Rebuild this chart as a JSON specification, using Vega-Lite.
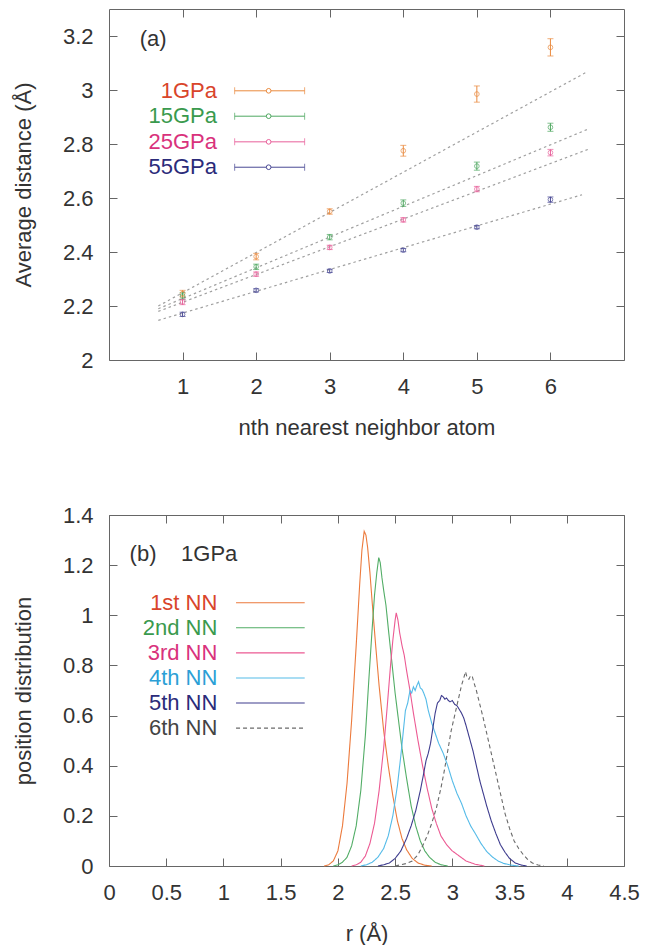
{
"$schema": "https://vega.github.io/schema/vega-lite/v6.json",
"padding": {"left": 11, "top": 8, "right": 5, "bottom": 0},
"autosize": {"type": "pad"},
"background": "white",
"spacing": 64,
"resolve": {"scale": {"stroke": "independent", "fill": "independent", "color": "independent", "strokeDash": "independent"}},
"config": {
  "font": "Liberation Sans",
  "view": {"stroke": "#666666", "strokeWidth": 1},
  "axis": {"grid": false, "domain": false, "tickColor": "#666666", "tickSize": -8, "labelFont": "Liberation Sans", "labelFontSize": 22, "labelColor": "#333333", "titleFont": "Liberation Sans", "titleFontSize": 22, "titleFontWeight": "normal", "titleColor": "#333333", "labelPadding": 24, "labelFlush": false, "labelOverlap": false},
  "text": {"font": "Liberation Sans", "fontSize": 22}
},
"datasets": {
  "pts": [
    {"s": "1GPa", "n": 1, "v": 2.246, "lo": 2.234, "hi": 2.258},
    {"s": "1GPa", "n": 2, "v": 2.383, "lo": 2.371, "hi": 2.395},
    {"s": "1GPa", "n": 3, "v": 2.55, "lo": 2.54, "hi": 2.56},
    {"s": "1GPa", "n": 4, "v": 2.775, "lo": 2.755, "hi": 2.795},
    {"s": "1GPa", "n": 5, "v": 2.985, "lo": 2.955, "hi": 3.015},
    {"s": "1GPa", "n": 6, "v": 3.158, "lo": 3.126, "hi": 3.19},
    {"s": "15GPa", "n": 1, "v": 2.237, "lo": 2.225, "hi": 2.249},
    {"s": "15GPa", "n": 2, "v": 2.345, "lo": 2.335, "hi": 2.355},
    {"s": "15GPa", "n": 3, "v": 2.455, "lo": 2.445, "hi": 2.465},
    {"s": "15GPa", "n": 4, "v": 2.581, "lo": 2.569, "hi": 2.593},
    {"s": "15GPa", "n": 5, "v": 2.718, "lo": 2.703, "hi": 2.733},
    {"s": "15GPa", "n": 6, "v": 2.862, "lo": 2.847, "hi": 2.877},
    {"s": "25GPa", "n": 1, "v": 2.215, "lo": 2.205, "hi": 2.225},
    {"s": "25GPa", "n": 2, "v": 2.318, "lo": 2.31, "hi": 2.326},
    {"s": "25GPa", "n": 3, "v": 2.417, "lo": 2.409, "hi": 2.425},
    {"s": "25GPa", "n": 4, "v": 2.519, "lo": 2.511, "hi": 2.527},
    {"s": "25GPa", "n": 5, "v": 2.633, "lo": 2.623, "hi": 2.643},
    {"s": "25GPa", "n": 6, "v": 2.768, "lo": 2.756, "hi": 2.78},
    {"s": "55GPa", "n": 1, "v": 2.169, "lo": 2.161, "hi": 2.177},
    {"s": "55GPa", "n": 2, "v": 2.258, "lo": 2.252, "hi": 2.264},
    {"s": "55GPa", "n": 3, "v": 2.33, "lo": 2.324, "hi": 2.336},
    {"s": "55GPa", "n": 4, "v": 2.407, "lo": 2.401, "hi": 2.413},
    {"s": "55GPa", "n": 5, "v": 2.492, "lo": 2.486, "hi": 2.498},
    {"s": "55GPa", "n": 6, "v": 2.594, "lo": 2.584, "hi": 2.604}
  ],
  "fits": [
    {"s": "1GPa", "x": 0.67, "y": 2.2},
    {"s": "1GPa", "x": 6.51, "y": 3.069},
    {"s": "15GPa", "x": 0.67, "y": 2.19},
    {"s": "15GPa", "x": 6.51, "y": 2.855},
    {"s": "25GPa", "x": 0.67, "y": 2.18},
    {"s": "25GPa", "x": 6.51, "y": 2.78},
    {"s": "55GPa", "x": 0.67, "y": 2.147},
    {"s": "55GPa", "x": 6.43, "y": 2.612}
  ],
  "legA": [
    {"s": "1GPa", "ty": 2.997, "tx": 1.467, "lx1": 1.708, "lx2": 2.659, "lxc": 2.17},
    {"s": "15GPa", "ty": 2.903, "tx": 1.467, "lx1": 1.708, "lx2": 2.659, "lxc": 2.17},
    {"s": "25GPa", "ty": 2.808, "tx": 1.467, "lx1": 1.708, "lx2": 2.659, "lxc": 2.17},
    {"s": "55GPa", "ty": 2.714, "tx": 1.467, "lx1": 1.708, "lx2": 2.659, "lxc": 2.17}
  ],
  "labA": [{"t": "(a)", "x": 0.417, "y": 3.188}],
  "labB": [{"t": "(b)", "x": 0.18, "y": 1.246}, {"t": "1GPa", "x": 0.63, "y": 1.246}],
  "legB": [
    {"nn": "1st NN", "ty": 1.05, "tx": 0.947, "lx1": 1.11, "lx2": 1.71},
    {"nn": "2nd NN", "ty": 0.95, "tx": 0.947, "lx1": 1.11, "lx2": 1.71},
    {"nn": "3rd NN", "ty": 0.85, "tx": 0.947, "lx1": 1.11, "lx2": 1.71},
    {"nn": "4th NN", "ty": 0.75, "tx": 0.947, "lx1": 1.11, "lx2": 1.71},
    {"nn": "5th NN", "ty": 0.65, "tx": 0.947, "lx1": 1.11, "lx2": 1.71},
    {"nn": "6th NN", "ty": 0.55, "tx": 0.947, "lx1": 1.11, "lx2": 1.71}
  ],
  "curves": [
    {"nn": "1st NN", "r": 1.88, "v": 0}, {"nn": "1st NN", "r": 1.92, "v": 0.005}, {"nn": "1st NN", "r": 1.96, "v": 0.02}, {"nn": "1st NN", "r": 2.0, "v": 0.06}, {"nn": "1st NN", "r": 2.04, "v": 0.16}, {"nn": "1st NN", "r": 2.08, "v": 0.33}, {"nn": "1st NN", "r": 2.12, "v": 0.58}, {"nn": "1st NN", "r": 2.16, "v": 0.88}, {"nn": "1st NN", "r": 2.19, "v": 1.12}, {"nn": "1st NN", "r": 2.21, "v": 1.26}, {"nn": "1st NN", "r": 2.23, "v": 1.335}, {"nn": "1st NN", "r": 2.245, "v": 1.32}, {"nn": "1st NN", "r": 2.26, "v": 1.27}, {"nn": "1st NN", "r": 2.28, "v": 1.17}, {"nn": "1st NN", "r": 2.3, "v": 1.05}, {"nn": "1st NN", "r": 2.33, "v": 0.88}, {"nn": "1st NN", "r": 2.36, "v": 0.72}, {"nn": "1st NN", "r": 2.4, "v": 0.54}, {"nn": "1st NN", "r": 2.44, "v": 0.4}, {"nn": "1st NN", "r": 2.48, "v": 0.28}, {"nn": "1st NN", "r": 2.52, "v": 0.18}, {"nn": "1st NN", "r": 2.56, "v": 0.11}, {"nn": "1st NN", "r": 2.6, "v": 0.065}, {"nn": "1st NN", "r": 2.65, "v": 0.03}, {"nn": "1st NN", "r": 2.7, "v": 0.012}, {"nn": "1st NN", "r": 2.76, "v": 0.003}, {"nn": "1st NN", "r": 2.82, "v": 0},
    {"nn": "2nd NN", "r": 1.96, "v": 0}, {"nn": "2nd NN", "r": 2.0, "v": 0.005}, {"nn": "2nd NN", "r": 2.04, "v": 0.015}, {"nn": "2nd NN", "r": 2.08, "v": 0.035}, {"nn": "2nd NN", "r": 2.12, "v": 0.08}, {"nn": "2nd NN", "r": 2.16, "v": 0.16}, {"nn": "2nd NN", "r": 2.2, "v": 0.3}, {"nn": "2nd NN", "r": 2.24, "v": 0.52}, {"nn": "2nd NN", "r": 2.27, "v": 0.74}, {"nn": "2nd NN", "r": 2.3, "v": 0.95}, {"nn": "2nd NN", "r": 2.32, "v": 1.08}, {"nn": "2nd NN", "r": 2.34, "v": 1.17}, {"nn": "2nd NN", "r": 2.357, "v": 1.23}, {"nn": "2nd NN", "r": 2.37, "v": 1.21}, {"nn": "2nd NN", "r": 2.385, "v": 1.15}, {"nn": "2nd NN", "r": 2.4, "v": 1.1}, {"nn": "2nd NN", "r": 2.42, "v": 1.04}, {"nn": "2nd NN", "r": 2.44, "v": 0.95}, {"nn": "2nd NN", "r": 2.47, "v": 0.82}, {"nn": "2nd NN", "r": 2.5, "v": 0.69}, {"nn": "2nd NN", "r": 2.53, "v": 0.58}, {"nn": "2nd NN", "r": 2.56, "v": 0.47}, {"nn": "2nd NN", "r": 2.6, "v": 0.35}, {"nn": "2nd NN", "r": 2.64, "v": 0.24}, {"nn": "2nd NN", "r": 2.68, "v": 0.16}, {"nn": "2nd NN", "r": 2.72, "v": 0.1}, {"nn": "2nd NN", "r": 2.76, "v": 0.06}, {"nn": "2nd NN", "r": 2.8, "v": 0.035}, {"nn": "2nd NN", "r": 2.85, "v": 0.015}, {"nn": "2nd NN", "r": 2.9, "v": 0.005}, {"nn": "2nd NN", "r": 2.96, "v": 0},
    {"nn": "3rd NN", "r": 2.12, "v": 0}, {"nn": "3rd NN", "r": 2.16, "v": 0.005}, {"nn": "3rd NN", "r": 2.2, "v": 0.015}, {"nn": "3rd NN", "r": 2.24, "v": 0.04}, {"nn": "3rd NN", "r": 2.28, "v": 0.09}, {"nn": "3rd NN", "r": 2.32, "v": 0.17}, {"nn": "3rd NN", "r": 2.36, "v": 0.3}, {"nn": "3rd NN", "r": 2.4, "v": 0.47}, {"nn": "3rd NN", "r": 2.43, "v": 0.63}, {"nn": "3rd NN", "r": 2.46, "v": 0.8}, {"nn": "3rd NN", "r": 2.48, "v": 0.9}, {"nn": "3rd NN", "r": 2.5, "v": 0.98}, {"nn": "3rd NN", "r": 2.51, "v": 1.01}, {"nn": "3rd NN", "r": 2.525, "v": 0.98}, {"nn": "3rd NN", "r": 2.54, "v": 0.93}, {"nn": "3rd NN", "r": 2.56, "v": 0.88}, {"nn": "3rd NN", "r": 2.58, "v": 0.84}, {"nn": "3rd NN", "r": 2.6, "v": 0.78}, {"nn": "3rd NN", "r": 2.63, "v": 0.7}, {"nn": "3rd NN", "r": 2.66, "v": 0.61}, {"nn": "3rd NN", "r": 2.7, "v": 0.5}, {"nn": "3rd NN", "r": 2.74, "v": 0.4}, {"nn": "3rd NN", "r": 2.78, "v": 0.31}, {"nn": "3rd NN", "r": 2.82, "v": 0.23}, {"nn": "3rd NN", "r": 2.86, "v": 0.17}, {"nn": "3rd NN", "r": 2.9, "v": 0.12}, {"nn": "3rd NN", "r": 2.95, "v": 0.085}, {"nn": "3rd NN", "r": 3.0, "v": 0.06}, {"nn": "3rd NN", "r": 3.06, "v": 0.04}, {"nn": "3rd NN", "r": 3.12, "v": 0.02}, {"nn": "3rd NN", "r": 3.2, "v": 0.007}, {"nn": "3rd NN", "r": 3.28, "v": 0},
    {"nn": "4th NN", "r": 2.2, "v": 0}, {"nn": "4th NN", "r": 2.25, "v": 0.005}, {"nn": "4th NN", "r": 2.3, "v": 0.015}, {"nn": "4th NN", "r": 2.35, "v": 0.035}, {"nn": "4th NN", "r": 2.4, "v": 0.07}, {"nn": "4th NN", "r": 2.44, "v": 0.12}, {"nn": "4th NN", "r": 2.48, "v": 0.2}, {"nn": "4th NN", "r": 2.52, "v": 0.32}, {"nn": "4th NN", "r": 2.55, "v": 0.44}, {"nn": "4th NN", "r": 2.57, "v": 0.53}, {"nn": "4th NN", "r": 2.59, "v": 0.62}, {"nn": "4th NN", "r": 2.61, "v": 0.65}, {"nn": "4th NN", "r": 2.63, "v": 0.7}, {"nn": "4th NN", "r": 2.645, "v": 0.69}, {"nn": "4th NN", "r": 2.66, "v": 0.715}, {"nn": "4th NN", "r": 2.675, "v": 0.7}, {"nn": "4th NN", "r": 2.69, "v": 0.72}, {"nn": "4th NN", "r": 2.705, "v": 0.735}, {"nn": "4th NN", "r": 2.72, "v": 0.71}, {"nn": "4th NN", "r": 2.735, "v": 0.705}, {"nn": "4th NN", "r": 2.75, "v": 0.69}, {"nn": "4th NN", "r": 2.77, "v": 0.665}, {"nn": "4th NN", "r": 2.79, "v": 0.62}, {"nn": "4th NN", "r": 2.82, "v": 0.57}, {"nn": "4th NN", "r": 2.85, "v": 0.53}, {"nn": "4th NN", "r": 2.88, "v": 0.49}, {"nn": "4th NN", "r": 2.92, "v": 0.45}, {"nn": "4th NN", "r": 2.96, "v": 0.4}, {"nn": "4th NN", "r": 3.0, "v": 0.34}, {"nn": "4th NN", "r": 3.04, "v": 0.29}, {"nn": "4th NN", "r": 3.08, "v": 0.25}, {"nn": "4th NN", "r": 3.12, "v": 0.2}, {"nn": "4th NN", "r": 3.16, "v": 0.16}, {"nn": "4th NN", "r": 3.2, "v": 0.13}, {"nn": "4th NN", "r": 3.25, "v": 0.09}, {"nn": "4th NN", "r": 3.3, "v": 0.058}, {"nn": "4th NN", "r": 3.35, "v": 0.036}, {"nn": "4th NN", "r": 3.4, "v": 0.02}, {"nn": "4th NN", "r": 3.45, "v": 0.01}, {"nn": "4th NN", "r": 3.52, "v": 0.003}, {"nn": "4th NN", "r": 3.58, "v": 0},
    {"nn": "5th NN", "r": 2.35, "v": 0}, {"nn": "5th NN", "r": 2.4, "v": 0.005}, {"nn": "5th NN", "r": 2.45, "v": 0.012}, {"nn": "5th NN", "r": 2.5, "v": 0.03}, {"nn": "5th NN", "r": 2.55, "v": 0.06}, {"nn": "5th NN", "r": 2.6, "v": 0.11}, {"nn": "5th NN", "r": 2.64, "v": 0.16}, {"nn": "5th NN", "r": 2.68, "v": 0.22}, {"nn": "5th NN", "r": 2.72, "v": 0.3}, {"nn": "5th NN", "r": 2.75, "v": 0.37}, {"nn": "5th NN", "r": 2.77, "v": 0.42}, {"nn": "5th NN", "r": 2.79, "v": 0.45}, {"nn": "5th NN", "r": 2.81, "v": 0.49}, {"nn": "5th NN", "r": 2.83, "v": 0.55}, {"nn": "5th NN", "r": 2.85, "v": 0.61}, {"nn": "5th NN", "r": 2.87, "v": 0.65}, {"nn": "5th NN", "r": 2.89, "v": 0.66}, {"nn": "5th NN", "r": 2.905, "v": 0.68}, {"nn": "5th NN", "r": 2.92, "v": 0.675}, {"nn": "5th NN", "r": 2.935, "v": 0.665}, {"nn": "5th NN", "r": 2.95, "v": 0.67}, {"nn": "5th NN", "r": 2.965, "v": 0.66}, {"nn": "5th NN", "r": 2.98, "v": 0.655}, {"nn": "5th NN", "r": 3.0, "v": 0.66}, {"nn": "5th NN", "r": 3.02, "v": 0.645}, {"nn": "5th NN", "r": 3.04, "v": 0.64}, {"nn": "5th NN", "r": 3.06, "v": 0.625}, {"nn": "5th NN", "r": 3.08, "v": 0.61}, {"nn": "5th NN", "r": 3.1, "v": 0.59}, {"nn": "5th NN", "r": 3.12, "v": 0.56}, {"nn": "5th NN", "r": 3.15, "v": 0.51}, {"nn": "5th NN", "r": 3.18, "v": 0.46}, {"nn": "5th NN", "r": 3.21, "v": 0.4}, {"nn": "5th NN", "r": 3.24, "v": 0.34}, {"nn": "5th NN", "r": 3.27, "v": 0.29}, {"nn": "5th NN", "r": 3.3, "v": 0.24}, {"nn": "5th NN", "r": 3.34, "v": 0.18}, {"nn": "5th NN", "r": 3.38, "v": 0.13}, {"nn": "5th NN", "r": 3.42, "v": 0.085}, {"nn": "5th NN", "r": 3.46, "v": 0.055}, {"nn": "5th NN", "r": 3.5, "v": 0.03}, {"nn": "5th NN", "r": 3.55, "v": 0.012}, {"nn": "5th NN", "r": 3.6, "v": 0.004}, {"nn": "5th NN", "r": 3.65, "v": 0},
    {"nn": "6th NN", "r": 2.5, "v": 0}, {"nn": "6th NN", "r": 2.55, "v": 0.005}, {"nn": "6th NN", "r": 2.6, "v": 0.01}, {"nn": "6th NN", "r": 2.65, "v": 0.02}, {"nn": "6th NN", "r": 2.7, "v": 0.045}, {"nn": "6th NN", "r": 2.74, "v": 0.08}, {"nn": "6th NN", "r": 2.78, "v": 0.12}, {"nn": "6th NN", "r": 2.82, "v": 0.17}, {"nn": "6th NN", "r": 2.86, "v": 0.23}, {"nn": "6th NN", "r": 2.9, "v": 0.31}, {"nn": "6th NN", "r": 2.93, "v": 0.38}, {"nn": "6th NN", "r": 2.96, "v": 0.46}, {"nn": "6th NN", "r": 2.99, "v": 0.54}, {"nn": "6th NN", "r": 3.02, "v": 0.6}, {"nn": "6th NN", "r": 3.05, "v": 0.66}, {"nn": "6th NN", "r": 3.08, "v": 0.72}, {"nn": "6th NN", "r": 3.1, "v": 0.75}, {"nn": "6th NN", "r": 3.115, "v": 0.775}, {"nn": "6th NN", "r": 3.13, "v": 0.75}, {"nn": "6th NN", "r": 3.145, "v": 0.745}, {"nn": "6th NN", "r": 3.16, "v": 0.76}, {"nn": "6th NN", "r": 3.175, "v": 0.755}, {"nn": "6th NN", "r": 3.19, "v": 0.73}, {"nn": "6th NN", "r": 3.21, "v": 0.7}, {"nn": "6th NN", "r": 3.24, "v": 0.645}, {"nn": "6th NN", "r": 3.27, "v": 0.59}, {"nn": "6th NN", "r": 3.3, "v": 0.53}, {"nn": "6th NN", "r": 3.34, "v": 0.45}, {"nn": "6th NN", "r": 3.38, "v": 0.37}, {"nn": "6th NN", "r": 3.42, "v": 0.29}, {"nn": "6th NN", "r": 3.46, "v": 0.21}, {"nn": "6th NN", "r": 3.5, "v": 0.15}, {"nn": "6th NN", "r": 3.54, "v": 0.1}, {"nn": "6th NN", "r": 3.58, "v": 0.07}, {"nn": "6th NN", "r": 3.62, "v": 0.045}, {"nn": "6th NN", "r": 3.66, "v": 0.025}, {"nn": "6th NN", "r": 3.7, "v": 0.012}, {"nn": "6th NN", "r": 3.75, "v": 0.004}, {"nn": "6th NN", "r": 3.8, "v": 0}
  ]
},
"vconcat": [
  {
    "width": 515, "height": 351,
    "resolve": {"axis": {"x": "independent", "y": "independent"}},
    "layer": [
      {"data": {"name": "fits"}, "mark": {"type": "line", "stroke": "#a0a0a0", "strokeDash": [2.5, 3], "strokeWidth": 1.2},
       "encoding": {
         "x": {"field": "x", "type": "quantitative", "scale": {"domain": [0, 7], "nice": false, "zero": false}, "axis": {"values": [1, 2, 3, 4, 5, 6], "title": "nth nearest neighbor atom", "titlePadding": 20}},
         "y": {"field": "y", "type": "quantitative", "scale": {"domain": [2, 3.3], "nice": false, "zero": false}, "axis": {"values": [2, 2.2, 2.4, 2.6, 2.8, 3, 3.2], "format": "~g", "title": "Average distance (Å)", "titlePadding": 27}},
         "detail": {"field": "s"}}},
      {"data": {"name": "pts"}, "mark": {"type": "rule", "strokeWidth": 1},
       "encoding": {
         "x": {"field": "n", "type": "quantitative", "scale": {"domain": [0, 7], "nice": false, "zero": false}, "axis": {"orient": "top", "values": [1, 2, 3, 4, 5, 6], "labels": false, "title": null}},
         "y": {"field": "lo", "type": "quantitative", "scale": {"domain": [2, 3.3], "nice": false, "zero": false}, "axis": {"orient": "right", "values": [2, 2.2, 2.4, 2.6, 2.8, 3, 3.2], "labels": false, "title": null}},
         "y2": {"field": "hi"},
         "stroke": {"field": "s", "type": "nominal", "scale": {"domain": ["1GPa", "15GPa", "25GPa", "55GPa"], "range": ["#ea8a3e", "#4fa861", "#e8609a", "#4a4a95"]}, "legend": null}}},
      {"data": {"name": "pts"}, "mark": {"type": "tick", "orient": "horizontal", "size": 6, "thickness": 1},
       "encoding": {
         "x": {"field": "n", "type": "quantitative", "scale": {"domain": [0, 7], "nice": false, "zero": false}, "axis": null},
         "y": {"field": "lo", "type": "quantitative", "scale": {"domain": [2, 3.3], "nice": false, "zero": false}, "axis": null},
         "color": {"field": "s", "type": "nominal", "scale": {"domain": ["1GPa", "15GPa", "25GPa", "55GPa"], "range": ["#ea8a3e", "#4fa861", "#e8609a", "#4a4a95"]}, "legend": null}}},
      {"data": {"name": "pts"}, "mark": {"type": "tick", "orient": "horizontal", "size": 6, "thickness": 1},
       "encoding": {
         "x": {"field": "n", "type": "quantitative", "scale": {"domain": [0, 7], "nice": false, "zero": false}, "axis": null},
         "y": {"field": "hi", "type": "quantitative", "scale": {"domain": [2, 3.3], "nice": false, "zero": false}, "axis": null},
         "color": {"field": "s", "type": "nominal", "scale": {"domain": ["1GPa", "15GPa", "25GPa", "55GPa"], "range": ["#ea8a3e", "#4fa861", "#e8609a", "#4a4a95"]}, "legend": null}}},
      {"data": {"name": "pts"}, "mark": {"type": "point", "shape": "circle", "filled": false, "size": 22, "strokeWidth": 1},
       "encoding": {
         "x": {"field": "n", "type": "quantitative", "scale": {"domain": [0, 7], "nice": false, "zero": false}, "axis": null},
         "y": {"field": "v", "type": "quantitative", "scale": {"domain": [2, 3.3], "nice": false, "zero": false}, "axis": null},
         "stroke": {"field": "s", "type": "nominal", "scale": {"domain": ["1GPa", "15GPa", "25GPa", "55GPa"], "range": ["#ea8a3e", "#4fa861", "#e8609a", "#4a4a95"]}, "legend": null}}},
      {"data": {"name": "legA"}, "mark": {"type": "text", "align": "right", "baseline": "middle", "fontSize": 22},
       "encoding": {
         "x": {"field": "tx", "type": "quantitative", "scale": {"domain": [0, 7], "nice": false, "zero": false}, "axis": null},
         "y": {"field": "ty", "type": "quantitative", "scale": {"domain": [2, 3.3], "nice": false, "zero": false}, "axis": null},
         "text": {"field": "s"},
         "fill": {"field": "s", "type": "nominal", "scale": {"domain": ["1GPa", "15GPa", "25GPa", "55GPa"], "range": ["#d9452b", "#3a9a4e", "#d9327c", "#2b2b7a"]}, "legend": null}}},
      {"data": {"name": "legA"}, "mark": {"type": "rule", "strokeWidth": 1},
       "encoding": {
         "x": {"field": "lx1", "type": "quantitative", "scale": {"domain": [0, 7], "nice": false, "zero": false}, "axis": null},
         "x2": {"field": "lx2"},
         "y": {"field": "ty", "type": "quantitative", "scale": {"domain": [2, 3.3], "nice": false, "zero": false}, "axis": null},
         "stroke": {"field": "s", "type": "nominal", "scale": {"domain": ["1GPa", "15GPa", "25GPa", "55GPa"], "range": ["#ea8a3e", "#4fa861", "#e8609a", "#4a4a95"]}, "legend": null}}},
      {"data": {"name": "legA"}, "mark": {"type": "tick", "orient": "vertical", "size": 7, "thickness": 1},
       "encoding": {
         "x": {"field": "lx1", "type": "quantitative", "scale": {"domain": [0, 7], "nice": false, "zero": false}, "axis": null},
         "y": {"field": "ty", "type": "quantitative", "scale": {"domain": [2, 3.3], "nice": false, "zero": false}, "axis": null},
         "color": {"field": "s", "type": "nominal", "scale": {"domain": ["1GPa", "15GPa", "25GPa", "55GPa"], "range": ["#ea8a3e", "#4fa861", "#e8609a", "#4a4a95"]}, "legend": null}}},
      {"data": {"name": "legA"}, "mark": {"type": "tick", "orient": "vertical", "size": 7, "thickness": 1},
       "encoding": {
         "x": {"field": "lx2", "type": "quantitative", "scale": {"domain": [0, 7], "nice": false, "zero": false}, "axis": null},
         "y": {"field": "ty", "type": "quantitative", "scale": {"domain": [2, 3.3], "nice": false, "zero": false}, "axis": null},
         "color": {"field": "s", "type": "nominal", "scale": {"domain": ["1GPa", "15GPa", "25GPa", "55GPa"], "range": ["#ea8a3e", "#4fa861", "#e8609a", "#4a4a95"]}, "legend": null}}},
      {"data": {"name": "legA"}, "mark": {"type": "point", "shape": "circle", "filled": false, "size": 22, "strokeWidth": 1, "fill": "white", "fillOpacity": 1},
       "encoding": {
         "x": {"field": "lxc", "type": "quantitative", "scale": {"domain": [0, 7], "nice": false, "zero": false}, "axis": null},
         "y": {"field": "ty", "type": "quantitative", "scale": {"domain": [2, 3.3], "nice": false, "zero": false}, "axis": null},
         "stroke": {"field": "s", "type": "nominal", "scale": {"domain": ["1GPa", "15GPa", "25GPa", "55GPa"], "range": ["#ea8a3e", "#4fa861", "#e8609a", "#4a4a95"]}, "legend": null}}},
      {"data": {"name": "labA"}, "mark": {"type": "text", "align": "left", "baseline": "middle", "fontSize": 22, "fill": "#333333"},
       "encoding": {
         "x": {"field": "x", "type": "quantitative", "scale": {"domain": [0, 7], "nice": false, "zero": false}, "axis": null},
         "y": {"field": "y", "type": "quantitative", "scale": {"domain": [2, 3.3], "nice": false, "zero": false}, "axis": null},
         "text": {"field": "t"}}}
    ]
  },
  {
    "width": 515, "height": 351,
    "resolve": {"axis": {"x": "independent", "y": "independent"}},
    "layer": [
      {"data": {"name": "curves"}, "mark": {"type": "line", "strokeWidth": 1.1},
       "encoding": {
         "x": {"field": "r", "type": "quantitative", "scale": {"domain": [0, 4.5], "nice": false, "zero": false}, "axis": {"values": [0, 0.5, 1, 1.5, 2, 2.5, 3, 3.5, 4, 4.5], "format": "~g", "title": "r (Å)", "titlePadding": 20}},
         "y": {"field": "v", "type": "quantitative", "scale": {"domain": [0, 1.4], "nice": false, "zero": false}, "axis": {"values": [0, 0.2, 0.4, 0.6, 0.8, 1, 1.2, 1.4], "format": "~g", "title": "position distribution", "titlePadding": 27}},
         "stroke": {"field": "nn", "type": "nominal", "scale": {"domain": ["1st NN", "2nd NN", "3rd NN", "4th NN", "5th NN", "6th NN"], "range": ["#ec7a3c", "#52ad66", "#ec5a93", "#55bbe8", "#3e3c8e", "#6a6a6a"]}, "legend": null},
         "strokeDash": {"field": "nn", "type": "nominal", "scale": {"domain": ["1st NN", "2nd NN", "3rd NN", "4th NN", "5th NN", "6th NN"], "range": [[1, 0], [1, 0], [1, 0], [1, 0], [1, 0], [4, 3]]}, "legend": null}}},
      {"data": {"name": "legB"}, "mark": {"type": "rule", "strokeWidth": 1.1},
       "encoding": {
         "x": {"field": "lx1", "type": "quantitative", "scale": {"domain": [0, 4.5], "nice": false, "zero": false}, "axis": {"orient": "top", "values": [0, 0.5, 1, 1.5, 2, 2.5, 3, 3.5, 4, 4.5], "labels": false, "title": null}},
         "x2": {"field": "lx2"},
         "y": {"field": "ty", "type": "quantitative", "scale": {"domain": [0, 1.4], "nice": false, "zero": false}, "axis": {"orient": "right", "values": [0, 0.2, 0.4, 0.6, 0.8, 1, 1.2, 1.4], "labels": false, "title": null}},
         "stroke": {"field": "nn", "type": "nominal", "scale": {"domain": ["1st NN", "2nd NN", "3rd NN", "4th NN", "5th NN", "6th NN"], "range": ["#ec7a3c", "#52ad66", "#ec5a93", "#55bbe8", "#3e3c8e", "#6a6a6a"]}, "legend": null},
         "strokeDash": {"field": "nn", "type": "nominal", "scale": {"domain": ["1st NN", "2nd NN", "3rd NN", "4th NN", "5th NN", "6th NN"], "range": [[1, 0], [1, 0], [1, 0], [1, 0], [1, 0], [4, 3]]}, "legend": null}}},
      {"data": {"name": "legB"}, "mark": {"type": "text", "align": "right", "baseline": "middle", "fontSize": 22},
       "encoding": {
         "x": {"field": "tx", "type": "quantitative", "scale": {"domain": [0, 4.5], "nice": false, "zero": false}, "axis": null},
         "y": {"field": "ty", "type": "quantitative", "scale": {"domain": [0, 1.4], "nice": false, "zero": false}, "axis": null},
         "text": {"field": "nn"},
         "fill": {"field": "nn", "type": "nominal", "scale": {"domain": ["1st NN", "2nd NN", "3rd NN", "4th NN", "5th NN", "6th NN"], "range": ["#d9452b", "#3a9a4e", "#d9327c", "#2c9fd6", "#2b2b7a", "#444444"]}, "legend": null}}},
      {"data": {"name": "labB"}, "mark": {"type": "text", "align": "left", "baseline": "middle", "fontSize": 22, "fill": "#333333"},
       "encoding": {
         "x": {"field": "x", "type": "quantitative", "scale": {"domain": [0, 4.5], "nice": false, "zero": false}, "axis": null},
         "y": {"field": "y", "type": "quantitative", "scale": {"domain": [0, 1.4], "nice": false, "zero": false}, "axis": null},
         "text": {"field": "t"}}}
    ]
  }
]
}
